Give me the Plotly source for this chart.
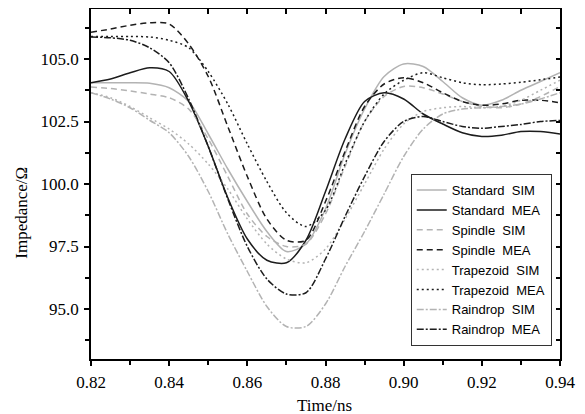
import plotly.graph_objects as go

time_ns = [0.820, 0.825, 0.830, 0.835, 0.840, 0.845, 0.850, 0.855, 0.860, 0.865,
           0.870, 0.875, 0.880, 0.885, 0.890, 0.895, 0.900, 0.905, 0.910, 0.915,
           0.920, 0.925, 0.930, 0.935, 0.940]

standard_sim = [104.05, 104.05, 104.05, 104.03, 103.85, 103.3, 102.0, 100.6, 99.3, 98.1,
                97.3, 97.6, 99.0, 101.2, 103.0, 104.3, 104.8, 104.7, 104.1, 103.45,
                103.15, 103.35, 103.75, 104.1, 104.45]
standard_mea = [104.05, 104.2, 104.45, 104.65, 104.5, 103.3, 101.5, 99.45, 97.8, 96.95,
                96.85, 97.75, 99.7, 101.8, 103.3, 103.65, 103.4, 102.8, 102.4, 102.05,
                101.9, 101.95, 102.1, 102.1, 102.0]
spindle_sim = [103.88, 103.82, 103.72, 103.6, 103.45, 103.0, 101.8, 100.3, 98.8, 97.9,
               97.5, 97.6, 98.8, 100.7, 102.5, 103.5, 103.9, 103.85, 103.6, 103.3,
               103.1, 103.05, 103.2, 103.5, 103.9]
spindle_mea = [106.07, 106.2, 106.35, 106.45, 106.4, 105.6, 104.3, 102.3, 100.3, 98.6,
               97.75, 97.75, 99.3, 101.3, 103.1, 104.0, 104.25, 104.05, 103.65, 103.3,
               103.15, 103.2, 103.35, 103.35, 103.25]
trapezoid_sim = [103.65, 103.45, 103.1, 102.65, 102.2, 101.6, 100.8, 99.8, 98.6, 97.6,
                 97.0, 96.85, 97.4, 98.6, 100.0, 101.4, 102.4, 102.9, 103.05, 103.1,
                 103.05, 103.1, 103.35, 103.75, 104.15]
trapezoid_mea = [105.9, 105.9, 105.9, 105.88, 105.75, 105.45, 104.5, 103.2, 101.6, 100.1,
                 98.85, 98.3, 98.95, 100.8, 102.5, 103.6, 104.15, 104.45, 104.25, 104.05,
                 103.97, 104.0, 104.07, 104.17, 104.28]
raindrop_sim = [103.65, 103.4, 103.05, 102.55, 102.05, 101.1, 99.7, 98.0, 96.5, 95.1,
                94.3, 94.3, 95.2, 96.7, 98.1, 99.6, 101.1, 102.2, 102.8, 103.0,
                103.05, 103.1, 103.2, 103.4, 103.65]
raindrop_mea = [105.88, 105.85, 105.75, 105.45, 104.85, 103.4, 101.5, 99.4, 97.5, 96.2,
                95.6, 95.65, 97.0, 98.7, 100.3, 101.7, 102.5, 102.7, 102.5, 102.3,
                102.23, 102.3, 102.38, 102.5, 102.54]

series_names = ["Standard\u00a0 SIM", "Standard\u00a0 MEA", "Spindle\u00a0 SIM", "Spindle\u00a0 MEA",
                "Trapezoid\u00a0 SIM", "Trapezoid\u00a0 MEA", "Raindrop\u00a0 SIM", "Raindrop\u00a0 MEA"]
series_values = [standard_sim, standard_mea, spindle_sim, spindle_mea,
                 trapezoid_sim, trapezoid_mea, raindrop_sim, raindrop_mea]

x_title = "Time/ns"
y_title = "Impedance/\u03a9"

GRAY = "#b3b3b3"
DARK = "#1c1c1c"
styles = [
    (GRAY, "solid"), (DARK, "solid"),
    (GRAY, "6px,4px"), (DARK, "6px,4px"),
    (GRAY, "2px,3px"), (DARK, "2px,3px"),
    (GRAY, "7px,2px,2px,2px"), (DARK, "7px,2px,2px,2px"),
]

fig = go.Figure()
for name, vals, (col, dash) in zip(series_names, series_values, styles):
    fig.add_trace(go.Scatter(
        x=time_ns, y=vals, name=name, mode="lines",
        line=dict(color=col, width=1.5, dash=dash, shape="spline", smoothing=0.8),
    ))

# mirrored axes with inward ticks (top and right)
fig.add_trace(go.Scatter(x=[], y=[], xaxis="x2", yaxis="y2", showlegend=False, hoverinfo="skip"))

serif = "Liberation Serif"
xr = [0.82, 0.94]
yr = [93, 107]

fig.update_layout(
    width=577, height=406,
    margin=dict(l=82.5, r=24.7, t=1, b=55),
    paper_bgcolor="white", plot_bgcolor="white",
    font=dict(family=serif, size=17, color="black"),
    xaxis=dict(range=xr, dtick=0.02, tick0=0.82, tickformat=".2f", automargin=False,
               showgrid=False, zeroline=False, showline=True, linecolor="black", linewidth=1.5,
               ticks="outside", ticklen=5, tickwidth=1.5, tickcolor="black",
               ticklabelstandoff=2,
               minor=dict(dtick=0.01, ticks="outside", ticklen=4, tickwidth=1.5, tickcolor="black", showgrid=False),
               tickfont=dict(family=serif, size=17)),
    yaxis=dict(range=yr, dtick=2.5, tick0=95, tickformat=".1f", automargin=False,
               showgrid=False, zeroline=False, showline=True, linecolor="black", linewidth=1.5,
               ticks="outside", ticklen=5, tickwidth=1.5, tickcolor="black",
               ticklabelstandoff=2,
               minor=dict(dtick=1.25, ticks="outside", ticklen=4, tickwidth=1.5, tickcolor="black", showgrid=False),
               tickfont=dict(family=serif, size=17)),
    xaxis2=dict(range=xr, overlaying="x", side="top", anchor="y2", dtick=0.02, tick0=0.82,
                automargin=False,
                showticklabels=False, showgrid=False, zeroline=False, showline=True,
                linecolor="black", linewidth=1.5,
                ticks="inside", ticklen=5, tickwidth=1.5, tickcolor="black",
                minor=dict(dtick=0.01, ticks="inside", ticklen=5, tickwidth=1.5, tickcolor="black", showgrid=False)),
    yaxis2=dict(range=yr, overlaying="y", side="right", anchor="x2", dtick=2.5, tick0=95,
                automargin=False,
                showticklabels=False, showgrid=False, zeroline=False, showline=True,
                linecolor="black", linewidth=1.5,
                ticks="inside", ticklen=4, tickwidth=1.5, tickcolor="black",
                minor=dict(dtick=1.25, ticks="inside", ticklen=4, tickwidth=1.5, tickcolor="black", showgrid=False)),
    legend=dict(x=0.9824, y=0.037, xanchor="right", yanchor="bottom",
                bgcolor="white", bordercolor="#333333", borderwidth=1,
                font=dict(family="Liberation Sans", size=13, color="black"),
                tracegroupgap=0, itemwidth=30),
    showlegend=True,
    annotations=[
        dict(text=x_title, xref="paper", yref="paper", x=0.497, y=-0.133,
             xanchor="center", yanchor="middle", showarrow=False,
             font=dict(family=serif, size=17, color="black")),
        dict(text=y_title, xref="paper", yref="paper", x=-0.150, y=0.417,
             xanchor="center", yanchor="middle", textangle=-90, showarrow=False,
             font=dict(family=serif, size=17, color="black")),
    ],
)

fig.write_html("out.html")
